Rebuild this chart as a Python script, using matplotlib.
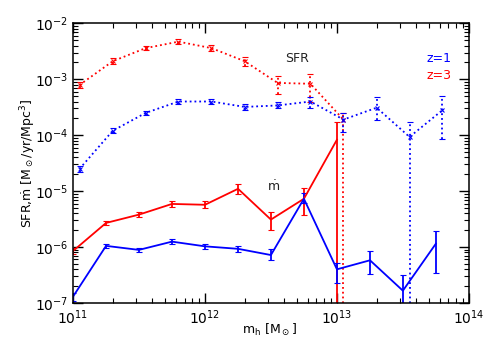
import numpy as np
import matplotlib
matplotlib.use("Agg")
import matplotlib.pyplot as plt
from matplotlib.ticker import LogLocator, NullFormatter

# ---- data ----
mh_acc = [1.0e11, 1.78e11, 3.16e11, 5.62e11, 1.0e12, 1.78e12, 3.16e12, 5.62e12,
          1.0e13, 1.78e13, 3.16e13, 5.62e13]
mh_sfr = [1.12e11, 2.0e11, 3.55e11, 6.3e11, 1.12e12, 2.0e12, 3.55e12, 6.3e12,
          1.12e13, 2.0e13, 3.55e13, 6.3e13]

# z=1 accretion rate (solid blue)
acc_z1 = [1.3e-7, 1.05e-6, 0.89e-6, 1.25e-6, 1.03e-6, 0.93e-6, 0.72e-6, 7.3e-6,
          4.0e-7, 5.8e-7, 1.66e-7, 1.15e-6]
acc_z1_lo = [1.1e-7, 0.95e-6, 0.81e-6, 1.15e-6, 0.92e-6, 0.80e-6, 0.59e-6, 6.2e-6,
             2.3e-7, 3.3e-7, 1e-9, 3.5e-7]
acc_z1_hi = [1.5e-7, 1.15e-6, 0.97e-6, 1.37e-6, 1.15e-6, 1.05e-6, 0.93e-6, 9.3e-6,
             5.2e-7, 8.5e-7, 3.2e-7, 1.95e-6]

# z=3 accretion rate (solid red)
acc_z3 = [0.85e-6, 2.7e-6, 3.8e-6, 5.9e-6, 5.7e-6, 1.1e-5, 3.1e-6, 7.3e-6, 8.3e-5]
acc_z3_lo = [0.76e-6, 2.45e-6, 3.4e-6, 5.3e-6, 4.9e-6, 8.9e-6, 2.0e-6, 3.8e-6, 1e-9]
acc_z3_hi = [0.95e-6, 2.95e-6, 4.2e-6, 6.6e-6, 6.6e-6, 1.35e-5, 4.2e-6, 1.15e-5, 1.7e-4]

# z=1 SFR (dotted blue)
sfr_z1 = [2.5e-5, 1.2e-4, 2.5e-4, 4.0e-4, 4.0e-4, 3.2e-4, 3.4e-4, 4.0e-4,
          1.9e-4, 3.1e-4, 9.3e-5, 2.8e-4]
sfr_z1_lo = [2.2e-5, 1.08e-4, 2.25e-4, 3.6e-4, 3.55e-4, 2.8e-4, 3.0e-4, 3.1e-4,
             1.15e-4, 1.9e-4, 1e-9, 8.5e-5]
sfr_z1_hi = [2.85e-5, 1.33e-4, 2.75e-4, 4.4e-4, 4.5e-4, 3.65e-4, 3.9e-4, 4.8e-4,
             2.5e-4, 4.9e-4, 1.74e-4, 5.0e-4]

# z=3 SFR (dotted red)
sfr_z3 = [7.9e-4, 2.1e-3, 3.6e-3, 4.7e-3, 3.6e-3, 2.1e-3, 8.6e-4, 8.3e-4, 1.9e-4]
sfr_z3_lo = [6.9e-4, 1.9e-3, 3.3e-3, 4.3e-3, 3.2e-3, 1.75e-3, 5.5e-4, 3.9e-4, 1e-9]
sfr_z3_hi = [9.0e-4, 2.35e-3, 3.95e-3, 5.2e-3, 4.05e-3, 2.5e-3, 1.15e-3, 1.23e-3, 2.5e-4]

x_ticks = [1e11, 1e12, 1e13, 1e14]
x_ticklabels = [r'10$^{11}$', r'10$^{12}$', r'10$^{13}$', r'10$^{14}$']
y_ticks = [1e-7, 1e-6, 1e-5, 1e-4, 1e-3, 1e-2]
y_ticklabels = [r'10$^{-7}$', r'10$^{-6}$', r'10$^{-5}$', r'10$^{-4}$', r'10$^{-3}$', r'10$^{-2}$']

BLUE = '#0000ff'
RED = '#ff0000'

fig = plt.figure(figsize=(4.91, 3.5), dpi=100)
ax = fig.add_axes([0.1487, 0.1343, 0.955 - 0.1487, 0.9334 - 0.1343])
ax.set_xscale('log')
ax.set_yscale('log')


def draw(x, y, lo, hi, color, ls, marker):
    x = np.array(x[:len(y)])
    y = np.array(y)
    err = np.vstack([y - np.array(lo), np.array(hi) - y])
    eb = ax.errorbar(x, y, yerr=err, color=color, ls=ls, lw=1.3,
                     marker=marker, ms=3, mew=0.8, capsize=2.5, capthick=1.0,
                     elinewidth=1.3, clip_on=True)
    if ls == ':':
        for c in eb[2]:
            c.set_linestyle(':')
    return eb


draw(mh_sfr, sfr_z3, sfr_z3_lo, sfr_z3_hi, RED, ':', 'x')
draw(mh_sfr, sfr_z1, sfr_z1_lo, sfr_z1_hi, BLUE, ':', 'x')
draw(mh_acc, acc_z3, acc_z3_lo, acc_z3_hi, RED, '-', None)
draw(mh_acc, acc_z1, acc_z1_lo, acc_z1_hi, BLUE, '-', None)

ax.set_xlim(1e11, 1e14)
ax.set_ylim(1e-7, 1e-2)
ax.set_xticks(x_ticks)
ax.set_xticklabels(x_ticklabels, fontsize=10)
ax.set_yticks(y_ticks)
ax.set_yticklabels(y_ticklabels, fontsize=10)
ax.xaxis.set_minor_locator(LogLocator(base=10, subs=np.arange(2, 10), numticks=20))
ax.yaxis.set_minor_locator(LogLocator(base=10, subs=np.arange(2, 10), numticks=20))
ax.xaxis.set_minor_formatter(NullFormatter())
ax.yaxis.set_minor_formatter(NullFormatter())
ax.tick_params(which='both', direction='in', top=True, right=True, color='black')
ax.tick_params(which='major', length=7, width=1)
ax.tick_params(which='minor', length=3.5, width=0.8)
ax.tick_params(axis='x', which='major', pad=4)
for s in ax.spines.values():
    s.set_linewidth(1.1)

ax.set_xlabel(r'm$_\mathrm{h}$ [M$_\odot$]', fontsize=9)
ax.set_ylabel(r'SFR,$\dot{\mathrm{m}}$ [M$_\odot$/yr/Mpc$^3$]', fontsize=9)
ax.xaxis.set_label_coords(0.497, -0.095)
ax.yaxis.set_label_coords(-0.114, 0.5)
ax.xaxis.label.set_va('center')
ax.yaxis.label.set_va('center')

ax.text(0.565, 0.875, 'SFR', transform=ax.transAxes, fontsize=9, color='#222222',
        ha='center', va='center')
ax.text(0.507, 0.415, r'$\dot{\mathrm{m}}$', transform=ax.transAxes, fontsize=9,
        color='#222222', ha='center', va='center')
ax.text(0.925, 0.875, 'z=1', transform=ax.transAxes, fontsize=9, color=BLUE,
        ha='center', va='center')
ax.text(0.925, 0.815, 'z=3', transform=ax.transAxes, fontsize=9, color=RED,
        ha='center', va='center')

fig.savefig('out.png', dpi=100)
